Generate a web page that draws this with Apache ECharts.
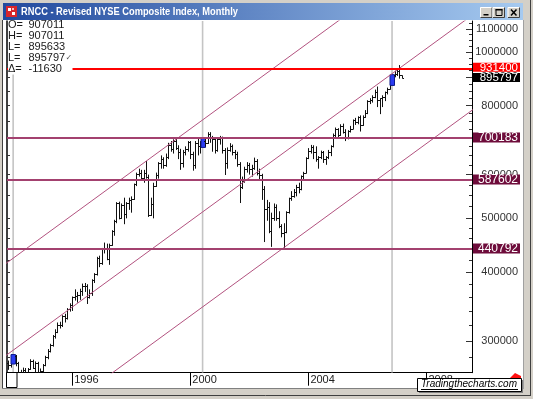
<!DOCTYPE html>
<html><head><meta charset="utf-8">
<script src="https://cdn.jsdelivr.net/npm/echarts@6/dist/echarts.min.js"></script>
<style>html,body{margin:0;padding:0;background:#d4d0c8;}#c{width:533px;height:399px;}</style>
</head><body><div id="c"></div>
<script>
// ---------------- data ----------------
const startYear = 1993, startMonthIndex = 10; // first bar: Nov 1993
const categoryCount = 189;                   // months shown on the axis (Nov 1993 .. Jul 2009)
const opens = [274000,271000,274000,282000,274000,261000,263000,266000,259000,267000,276000,268000,274000,263000,
265000,271000,281000,288000,295000,306000,312000,321000,320000,333000,330000,343000,
349000,360000,362000,364000,369000,377000,378000,360000,366000,386000,396000,424000,
415000,440000,442000,423000,448000,474000,494000,532000,501000,528000,509000,532000,
540000,542000,576000,602000,605000,592000,605000,595000,508000,530000,572000,600000,
630000,640000,625000,645000,680000,668000,690000,670000,660000,630000,660000,668000,
688000,655000,625000,685000,675000,680000,690000,685000,712000,700000,695000,665000,
695000,700000,665000,630000,665000,675000,660000,655000,628000,570000,585000,615000,
624000,615000,618000,635000,605000,600000,565000,520000,525000,475000,500000,525000,
500000,485000,470000,473000,513000,544000,549000,558000,570000,564000,596000,605000,
644000,662000,672000,660000,640000,645000,658000,640000,645000,660000,675000,708000,
725000,707000,735000,718000,698000,719000,727000,752000,746000,763000,738000,764000,
775000,817000,819000,830000,848000,820000,824000,830000,846000,858000,887000,908000,
914000,925000,907011];
const highs = [276500,276000,283500,283000,275000,266000,268500,268000,268000,278000,277500,275500,275000,267500,
272500,282000,290000,296500,307500,315000,324000,325000,334000,336000,344000,351000,
361000,372000,368000,373000,381000,382000,380000,372000,388000,398000,426000,428000,
442000,452000,450000,450000,476000,497000,535000,536000,532000,545000,535000,545000,
548000,578000,605000,615000,612000,612000,635000,600000,545000,580000,605000,632000,
650000,645000,655000,685000,690000,695000,700000,678000,668000,665000,675000,690000,
690000,660000,690000,698000,690000,698000,700000,716000,716000,705000,700000,698000,
705000,703000,670000,672000,684000,680000,665000,660000,632000,595000,620000,632000,
630000,625000,644000,640000,615000,602000,572000,540000,535000,512000,532000,530000,
515000,488000,490000,515000,545000,560000,565000,575000,580000,598000,607000,645000,
670000,679000,678000,675000,648000,663000,662000,648000,665000,678000,712000,730000,
728000,740000,742000,725000,722000,735000,755000,760000,765000,768000,768000,785000,
818000,825000,835000,855000,866000,825000,835000,848000,862000,890000,910000,925000,
932000,947000,907011];
const lows = [266000,268500,272500,270000,258000,255000,259000,257500,258000,266000,267000,262500,261000,259500,
262500,270000,278000,286000,293000,303000,310000,316000,318000,324000,328000,339000,
340000,355000,352000,356000,362000,368000,350000,358000,362000,382000,394000,408000,
412000,432000,420000,412000,446000,465000,490000,498000,499000,488000,500000,518000,
512000,540000,572000,595000,588000,580000,590000,503000,505000,500000,570000,590000,
615000,615000,620000,640000,660000,655000,665000,640000,612000,618000,650000,660000,
640000,610000,615000,650000,655000,672000,675000,682000,685000,660000,655000,660000,
680000,655000,599000,615000,660000,650000,640000,620000,533000,565000,580000,605000,
600000,595000,612000,598000,585000,540000,453000,495000,470000,444000,495000,495000,
480000,462000,441000,470000,510000,538000,545000,548000,555000,562000,585000,603000,
640000,655000,640000,633000,615000,640000,630000,625000,640000,648000,672000,700000,
700000,705000,712000,690000,695000,715000,725000,738000,740000,718000,735000,760000,
772000,805000,810000,825000,795000,772000,795000,815000,838000,855000,870000,900000,
905000,895000,895633];
const closes = [271000,274000,282000,274000,261000,263000,266000,259000,267000,276000,268000,274000,263000,265000,
271000,281000,288000,295000,306000,312000,321000,320000,333000,330000,343000,349000,
360000,362000,364000,369000,377000,378000,360000,366000,386000,396000,424000,415000,
440000,442000,423000,448000,474000,494000,532000,501000,528000,509000,532000,540000,
542000,576000,602000,605000,592000,605000,595000,508000,530000,572000,600000,630000,
640000,625000,645000,680000,668000,690000,670000,660000,630000,660000,668000,688000,
655000,625000,685000,675000,680000,690000,685000,712000,700000,695000,665000,695000,
700000,665000,630000,665000,675000,660000,655000,628000,570000,585000,615000,624000,
615000,618000,635000,605000,600000,565000,520000,525000,475000,500000,525000,500000,
485000,470000,473000,513000,544000,549000,558000,570000,564000,596000,605000,644000,
662000,672000,660000,640000,645000,658000,640000,645000,660000,675000,708000,725000,
707000,735000,718000,698000,719000,727000,752000,746000,763000,738000,764000,775000,
817000,819000,830000,848000,820000,824000,830000,846000,858000,887000,908000,914000,
925000,907427,895797];
const highlightBars = [2, 79, 156];               // bars marked in blue (and vertical cycle lines)
const levelValues = [700183, 587602, 440792];     // horizontal support/resistance levels
const redLevel = 931400;
const lastClose = 895797;
const yLabelValues = [300000, 400000, 500000, 600000, 700000, 800000, 900000, 1000000, 1100000];
const yMinorRight = [280000,300000,320000,340000,360000,380000,400000,420000,440000,460000,480000,500000,
  525000,550000,575000,600000,625000,650000,675000,700000,725000,750000,775000,800000,825000,850000,
  875000,900000,925000,950000,975000,1000000,1025000,1050000,1075000,1100000,1125000];
const yMinorLeft = [280000,300000,320000,340000,360000,380000,400000,420000,440000,460000,480000,500000,
  550000,600000,650000,700000,750000,800000,850000,900000,950000,1000000,1050000,1100000];
const yearLabels = ['1996', '2000', '2004', '2008'];
// channel lines: [barIndex, value] end points
const channelLines = [
  [[-1, 414090], [189, 1716010]],
  [[-1, 282240], [189, 1169620]],
  [[-1, 189990], [189, 787340]]
];
const infoLabels = ['O=', 'H=', 'L=', 'L=', 'Δ='];
const infoValues = ['907011', '907011', '895633', '895797', '-11630'];
const yMin = 262850, yMax = 1137900;

// ---------------- build ----------------
const categories = [];
for (let k = 0; k < categoryCount; k++) {
  const m = startMonthIndex + k;
  const y = startYear + Math.floor(m / 12);
  const mm = (m % 12) + 1;
  categories.push(y + '-' + (mm < 10 ? '0' : '') + mm);
}
const ohlc = opens.map((o, i) => [i, o, highs[i], lows[i], closes[i]]);
const yearTickSet = new Set(yearLabels.map(y => y + '-01'));
const FONT = '"Liberation Sans", Arial, sans-serif';
const levelColor = '#a3416f';
const boxColor = '#6e0c3b';
const chanColor = '#b2527f';

function renderOHLC(params, api) {
  const i = api.value(0);
  const pH = api.coord([i, api.value(2)]);
  const pL = api.coord([i, api.value(3)]);
  const pO = api.coord([i, api.value(1)]);
  const pC = api.coord([i, api.value(4)]);
  const x = Math.round(pH[0]) + 0.5;
  if (highlightBars.indexOf(i) >= 0) {
    return { type: 'rect', shape: { x: x - 2.5, y: pH[1], width: 4.5, height: Math.max(pL[1] - pH[1], 3) },
      style: { fill: '#2b3cf2', stroke: '#0d1a8a', lineWidth: 1 } };
  }
  const yo = Math.round(pO[1]) + 0.5, yc = Math.round(pC[1]) + 0.5;
  const st = { stroke: '#111', lineWidth: 1 };
  return { type: 'group', children: [
    { type: 'line', shape: { x1: x, y1: pH[1], x2: x, y2: pL[1] }, style: st },
    { type: 'line', shape: { x1: x - 1.5, y1: yo, x2: x, y2: yo }, style: st },
    { type: 'line', shape: { x1: x, y1: yc, x2: x + 1.5, y2: yc }, style: st }
  ]};
}
function renderCycle(params, api) {
  const i = api.value(0);
  const cs = params.coordSys;
  const x = api.coord([i, yMax])[0];
  return { type: 'line', shape: { x1: x, y1: cs.y, x2: x, y2: cs.y + cs.height },
    style: { stroke: '#c4c4c4', lineWidth: 1.6 } };
}

const richBox = (bg, h, fs) => ({ backgroundColor: bg, color: '#fff', fontSize: fs, fontFamily: FONT,
  width: 45, align: 'right', padding: [0, 2, 0, 0], height: h, lineHeight: h });

const levelMarks = [
  { yAxis: lastClose, lineStyle: { color: 'rgba(0,0,0,0)', width: 0.1, type: 'solid' },
    label: { formatter: '{k|' + lastClose + '}', offset: [0, -1.0] } },
  { yAxis: redLevel, lineStyle: { color: '#ff0000', width: 2, type: 'solid' },
    label: { formatter: '{r|' + redLevel + '}', offset: [0, -1.7] } }
].concat(levelValues.map(v => ({ yAxis: v, lineStyle: { color: levelColor, width: 2, type: 'solid' },
    label: { formatter: '{m|' + v + '}' } })));

const infoText = infoLabels.map((l, i) => '{l|' + l + '}' + (i === 3 ? '{w|' + infoValues[i] + '}{ck|✓}' : '{v|' + infoValues[i] + '}')).join('\n');

function button(x, glyph) {
  const els = [
    { type: 'rect', shape: { x: x, y: 7, width: 12.5, height: 11 }, style: { fill: '#d4d0c8' } },
    { type: 'polyline', shape: { points: [[x + 0.5, 17.5], [x + 0.5, 7.5], [x + 12, 7.5]] }, style: { stroke: '#fff', lineWidth: 1, fill: null } },
    { type: 'polyline', shape: { points: [[x + 0.5, 17.5], [x + 12, 17.5], [x + 12, 7.5]] }, style: { stroke: '#404040', lineWidth: 1, fill: null } }
  ];
  if (glyph === 'min') els.push({ type: 'rect', shape: { x: x + 3.5, y: 14, width: 5, height: 1.5 }, style: { fill: '#000' } });
  if (glyph === 'max') {
    els.push({ type: 'rect', shape: { x: x + 3.5, y: 9.5, width: 6, height: 6 }, style: { fill: null, stroke: '#000', lineWidth: 1 } });
    els.push({ type: 'rect', shape: { x: x + 3, y: 9, width: 7, height: 1.5 }, style: { fill: '#000' } });
  }
  if (glyph === 'close') {
    els.push({ type: 'line', shape: { x1: x + 3.5, y1: 9.5, x2: x + 9, y2: 15.5 }, style: { stroke: '#000', lineWidth: 1.5 } });
    els.push({ type: 'line', shape: { x1: x + 9, y1: 9.5, x2: x + 3.5, y2: 15.5 }, style: { stroke: '#000', lineWidth: 1.5 } });
  }
  return els;
}

const graphics = [
  { type: 'rect', z: -100, shape: { x: 3, y: 20, width: 520, height: 368 }, style: { fill: '#fff' } },
  { type: 'line', z: -99, shape: { x1: 2.5, y1: 20, x2: 2.5, y2: 388 }, style: { stroke: '#404040', lineWidth: 1 } },
  { type: 'line', z: -99, shape: { x1: 2, y1: 388.5, x2: 524, y2: 388.5 }, style: { stroke: '#808080', lineWidth: 1 } },
  { type: 'line', z: -99, shape: { x1: 523.5, y1: 20, x2: 523.5, y2: 389 }, style: { stroke: '#a0a0a0', lineWidth: 1 } },
  { type: 'line', z: -99, shape: { x1: 530.5, y1: 0, x2: 530.5, y2: 396 }, style: { stroke: '#404040', lineWidth: 1 } },
  { type: 'line', z: -99, shape: { x1: 0, y1: 395.5, x2: 531, y2: 395.5 }, style: { stroke: '#404040', lineWidth: 1 } },
  { type: 'rect', z: 50, shape: { x: 3, y: 3, width: 520, height: 17 },
    style: { fill: new echarts.graphic.LinearGradient(0, 0, 1, 0, [{ offset: 0, color: '#224a9e' }, { offset: 1, color: '#a6caf0' }]) } },
  { type: 'rect', z: 51, shape: { x: 6, y: 6, width: 11, height: 11 }, style: { fill: '#d8262c' } },
  { type: 'rect', z: 52, shape: { x: 8, y: 8, width: 3, height: 3 }, style: { fill: '#fff' } },
  { type: 'rect', z: 52, shape: { x: 12, y: 12, width: 3, height: 3 }, style: { fill: '#fff' } },
  { type: 'rect', z: 52, shape: { x: 12, y: 8, width: 2, height: 2 }, style: { fill: '#f4c0c0' } },
  { type: 'text', z: 52, x: 21, y: 12, scaleX: 0.845, style: { x: 0, y: 0, text: 'RNCC - Revised NYSE Composite Index, Monthly', fill: '#fff',
      fontWeight: 'bold', fontSize: 11, fontFamily: FONT, verticalAlign: 'middle' } }
].concat(button(480, 'min'), button(492.5, 'max'), button(507.5, 'close')).map(e => Object.assign({ z: 60 }, e, e.z !== undefined ? { z: e.z } : {}))
.concat([
  { type: 'rect', z: 60, shape: { x: 6.5, y: 372.5, width: 10.5, height: 15 }, style: { fill: '#fff', stroke: '#000', lineWidth: 1 } },
  { type: 'polygon', z: 60, shape: { points: [[507, 381], [515, 373], [521, 376], [521, 381]] }, style: { fill: '#ff1010' } },
  { type: 'rect', z: 61, shape: { x: 417.5, y: 378.5, width: 104, height: 13 }, style: { fill: '#fff', stroke: '#000', lineWidth: 1 } },
  { type: 'line', z: 61, shape: { x1: 522.5, y1: 380, x2: 522.5, y2: 393 }, style: { stroke: '#808080', lineWidth: 1 } },
  { type: 'line', z: 61, shape: { x1: 419, y1: 392.5, x2: 523, y2: 392.5 }, style: { stroke: '#808080', lineWidth: 1 } },
  { type: 'text', z: 62, style: { x: 421, y: 384.5, text: 'Tradingthecharts.com', fill: '#000', fontStyle: 'italic',
      fontSize: 10, fontFamily: FONT, verticalAlign: 'middle' } },
  { type: 'line', z: 62, shape: { x1: 421, y1: 389.5, x2: 518, y2: 389.5 }, style: { stroke: '#000', lineWidth: 1 } }
]);

const yAxisBase = { type: 'log', logBase: 10, min: yMin, max: yMax, splitLine: { show: false }, axisPointer: { show: false } };

const option = {
  animation: false,
  backgroundColor: '#d4d0c8',
  grid: { left: 7, top: 21, width: 465, height: 351.7, outerBoundsMode: 'none', containLabel: false },
  title: {
    left: 8, top: 19.5, padding: [0, 0, 0, 0], backgroundColor: '#fff',
    text: infoText,
    textStyle: { fontSize: 11, lineHeight: 11, fontFamily: FONT, color: '#1a1a1a', fontWeight: 'normal',
      rich: {
        l: { width: 20.5, fontSize: 11, lineHeight: 11, fontFamily: FONT, color: '#1a1a1a' },
        v: { width: 44, fontSize: 11, lineHeight: 11, fontFamily: FONT, color: '#1a1a1a' },
        w: { width: 37, fontSize: 11, lineHeight: 11, fontFamily: FONT, color: '#1a1a1a' },
        ck: { width: 7, fontSize: 8, lineHeight: 11, fontFamily: '"DejaVu Sans"', color: '#555' }
      } }
  },
  xAxis: {
    type: 'category', data: categories, boundaryGap: true,
    axisLine: { show: true, lineStyle: { color: '#000', width: 1 } },
    axisTick: { show: true, alignWithLabel: true, interval: (i, v) => yearTickSet.has(v), length: 13, lineStyle: { color: '#000', width: 1 } },
    axisLabel: { interval: (i, v) => yearTickSet.has(v), formatter: v => v.slice(0, 4), align: 'left', margin: 2,
      padding: [0, 0, 0, 2], fontSize: 11, fontFamily: FONT, color: '#222' },
    splitLine: { show: false }
  },
  yAxis: [
    Object.assign({}, yAxisBase, { position: 'right',
      axisLine: { show: true, lineStyle: { color: '#000', width: 1 } },
      axisTick: { show: true, inside: true, length: 3, customValues: yMinorRight, lineStyle: { color: '#333' } },
      axisLabel: { show: true, customValues: yLabelValues, formatter: v => String(Math.round(v)), align: 'right', margin: 46,
        fontSize: 11, fontFamily: FONT, color: '#333' } }),
    Object.assign({}, yAxisBase, { position: 'right',
      axisLine: { show: false },
      axisTick: { show: true, inside: true, length: 6, customValues: yLabelValues, lineStyle: { color: '#333' } },
      axisLabel: { show: false } }),
    Object.assign({}, yAxisBase, { position: 'left',
      axisLine: { show: true, lineStyle: { color: '#000', width: 1.5 } },
      axisTick: { show: true, inside: true, length: 3, customValues: yMinorLeft, lineStyle: { color: '#333' } },
      axisLabel: { show: false } })
  ],
  series: [
    { type: 'custom', name: 'cycle', z: 1, silent: true, clip: true, renderItem: renderCycle,
      data: highlightBars.map(i => [i, yMax]), encode: { x: 0, y: 1 } },
    { type: 'custom', name: 'RNCC', z: 2, silent: true, clip: true, renderItem: renderOHLC,
      data: ohlc, dimensions: ['i', 'open', 'high', 'low', 'close'], encode: { x: 0, y: [1, 2, 3, 4] } }
  ].concat(channelLines.map((seg, k) => ({
    type: 'line', name: 'channel' + k, data: seg, symbol: 'none', z: 3, silent: true, clip: true,
    lineStyle: { color: chanColor, width: 1 },
    markLine: k === 0 ? {
      silent: true, symbol: ['none', 'none'], animation: false,
      label: { show: true, position: 'end', distance: 1,
        rich: { r: richBox('#ff0000', 9, 11.5), k: richBox('#000', 9, 11.5), m: richBox(boxColor, 10, 12) } },
      data: levelMarks
    } : undefined
  }))),
  graphic: { elements: graphics }
};

const chart = echarts.init(document.getElementById('c'), null, { renderer: 'canvas', width: 533, height: 399 });
chart.setOption(option);
</script>
</body></html>
